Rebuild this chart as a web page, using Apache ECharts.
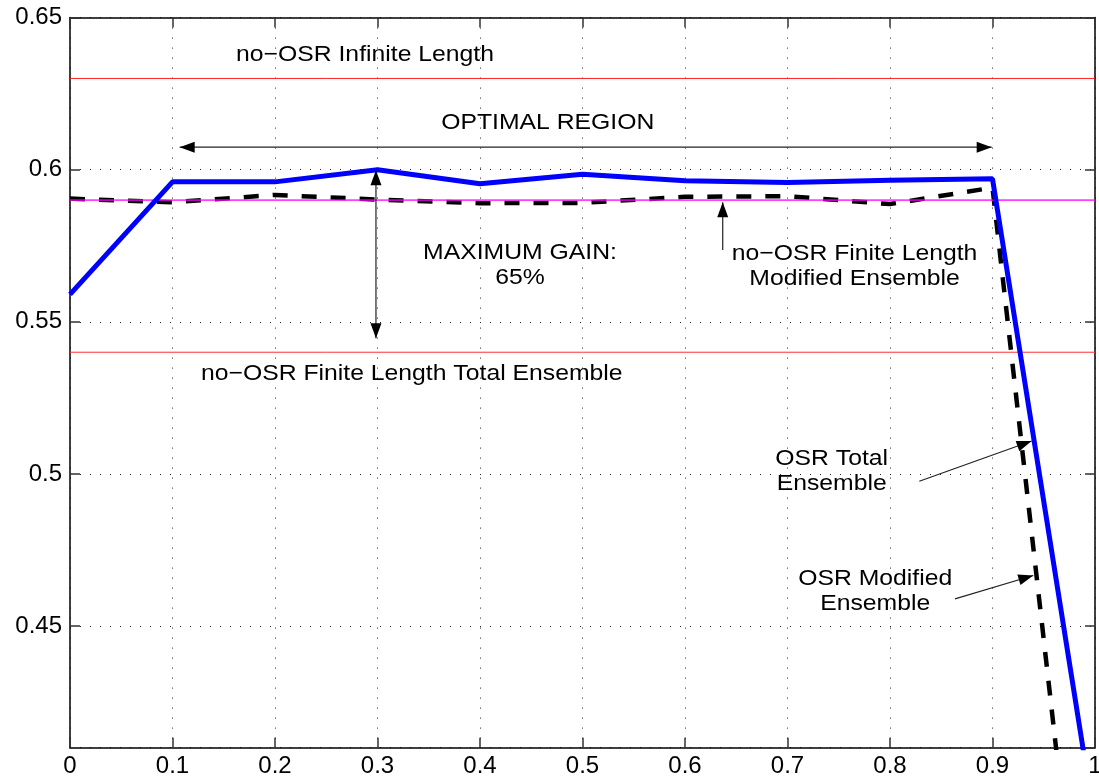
<!DOCTYPE html>
<html>
<head>
<meta charset="utf-8">
<script src="https://cdn.jsdelivr.net/npm/echarts@6/dist/echarts.min.js"></script>
<style>
  html, body { margin: 0; padding: 0; background: #fff; }
  #chart { width: 1099px; height: 781px; }
</style>
</head>
<body>
<div id="chart"></div>
<script>
// ---- data ----
const xValues = [0, 0.1, 0.2, 0.3, 0.4, 0.5, 0.6, 0.7, 0.8, 0.9, 1.0];
const osrTotal = [0.559, 0.596, 0.596, 0.600, 0.5954, 0.5985, 0.5964, 0.5958, 0.5965, 0.597, 0.385];
const osrModified = [0.5905, 0.5893, 0.5917, 0.5902, 0.589, 0.5891, 0.5911, 0.5913, 0.5887, 0.5941, 0.297];
const refX = [0, 1];
const noOsrInfinite = 0.63;
const noOsrFiniteModified = 0.59;
const noOsrFiniteTotal = 0.54;

const xMin = 0, xMax = 1, xStep = 0.1;
const yMin = 0.41, yMax = 0.65;

const annotationTexts = [
  'no\u2212OSR Infinite Length',
  'OPTIMAL REGION',
  'MAXIMUM GAIN:\n65%',
  'no\u2212OSR Finite Length\nModified Ensemble',
  'no\u2212OSR Finite Length Total Ensemble',
  'OSR Total\nEnsemble',
  'OSR Modified\nEnsemble'
];
const annotationX = [0.2878, 0.4661, 0.439, 0.7654, 0.3334, 0.7431, 0.7856];
const annotationY = [0.6378, 0.6155, 0.5686, 0.5684, 0.5328, 0.5009, 0.4615];

// arrows: from (x1,y1) to (x2,y2); head at end 2, and at end 1 too if double
const arrowX1 = [0.107, 0.2985, 0.6368, 0.8286, 0.8634];
const arrowY1 = [0.6074, 0.5446, 0.5736, 0.4976, 0.4589];
const arrowX2 = [0.8992, 0.2985, 0.6368, 0.9382, 0.9398];
const arrowY2 = [0.6074, 0.5998, 0.5893, 0.5108, 0.4666];
const arrowDouble = [1, 1, 0, 0, 0];

// ---- build ----
const FONT = "'Liberation Sans', Arial, Helvetica, sans-serif";
const pairs = (xs, ys) => xs.map((x, i) => [x, ys[i]]);
const hline = (v) => refX.map(x => [x, v]);

const chart = echarts.init(document.getElementById('chart'), null, { renderer: 'canvas' });

const gridDots = { show: true, lineStyle: { color: '#222', width: 1, type: [1, 9] } };
const tickStyle = { show: true, inside: true, length: 10, lineStyle: { color: '#333', width: 1.5 } };
const lineAxis = { show: true, onZero: false, lineStyle: { color: '#000', width: 1.5 } };

function arrowHead(tip, tail, L, W) {
  const dx = tip[0] - tail[0], dy = tip[1] - tail[1];
  const len = Math.sqrt(dx * dx + dy * dy) || 1;
  const ux = dx / len, uy = dy / len;
  const bx = tip[0] - ux * L, by = tip[1] - uy * L;
  const nx = -uy, ny = ux;
  return {
    type: 'polygon',
    shape: { points: [[tip[0], tip[1]], [bx + nx * W / 2, by + ny * W / 2], [bx - nx * W / 2, by - ny * W / 2]] },
    style: { fill: '#000' }
  };
}

const option = {
  animation: false,
  backgroundColor: '#fff',
  grid: { left: 70, right: 4, top: 17.6, bottom: 33.3, containLabel: false, outerBoundsMode: 'none' },
  xAxis: [
    {
      type: 'value', min: xMin, max: xMax, interval: xStep, position: 'bottom',
      axisLine: lineAxis, axisTick: tickStyle,
      axisLabel: { color: '#000', fontSize: 24, fontFamily: FONT, margin: 7 },
      splitLine: gridDots
    },
    {
      type: 'value', min: xMin, max: xMax, interval: xStep, position: 'top',
      axisLine: lineAxis, axisTick: tickStyle,
      axisLabel: { show: false }, splitLine: { show: false }
    }
  ],
  yAxis: [
    {
      type: 'value', min: yMin, max: yMax, splitNumber: 5, position: 'left',
      axisLine: lineAxis, axisTick: tickStyle,
      axisLabel: { color: '#000', fontSize: 24, fontFamily: FONT, margin: 8, showMinLabel: false },
      splitLine: gridDots
    },
    {
      type: 'value', min: yMin, max: yMax, splitNumber: 5, position: 'right',
      axisLine: lineAxis, axisTick: tickStyle,
      axisLabel: { show: false }, splitLine: { show: false }
    }
  ],
  series: [
    {
      name: 'no-OSR Infinite Length', type: 'line', data: hline(noOsrInfinite),
      symbol: 'none', lineStyle: { color: '#ff2020', width: 1 }, z: 2, silent: true
    },
    {
      name: 'no-OSR Finite Length Total Ensemble', type: 'line', data: hline(noOsrFiniteTotal),
      symbol: 'none', lineStyle: { color: '#ff3030', width: 1 }, z: 2, silent: true
    },
    {
      name: 'OSR Modified Ensemble', type: 'line', data: pairs(xValues, osrModified),
      symbol: 'none', lineStyle: { color: '#000', width: 4.5, type: [15, 14], cap: 'butt' }, z: 3, silent: true
    },
    {
      name: 'no-OSR Finite Length Modified Ensemble', type: 'line', data: hline(noOsrFiniteModified),
      symbol: 'none', lineStyle: { color: '#ff00ff', width: 1.8, opacity: 0.75 }, z: 4, silent: true
    },
    {
      name: 'OSR Total Ensemble', type: 'line', data: pairs(xValues, osrTotal),
      symbol: 'none', lineStyle: { color: '#0000ff', width: 5 }, z: 5, silent: true
    },
    {
      name: 'arrows', type: 'custom', silent: true, clip: false, z: 6,
      encode: { x: 0, y: 1 },
      data: arrowX1.map((x, i) => [x, arrowY1[i], arrowX2[i], arrowY2[i], arrowDouble[i]]),
      renderItem: function (params, api) {
        const p1 = api.coord([api.value(0), api.value(1)]);
        const p2 = api.coord([api.value(2), api.value(3)]);
        const dbl = api.value(4) === 1;
        const children = [
          { type: 'line', shape: { x1: p1[0], y1: p1[1], x2: p2[0], y2: p2[1] }, style: { stroke: '#222', lineWidth: 1.2 } },
          arrowHead(p2, p1, 15, 11)
        ];
        if (dbl) children.push(arrowHead(p1, p2, 15, 11));
        return { type: 'group', children: children };
      }
    },
    {
      name: 'labels', type: 'custom', silent: true, clip: false, z: 7,
      encode: { x: 0, y: 1 },
      data: annotationX.map((x, i) => [x, annotationY[i]]),
      renderItem: function (params, api) {
        const p = api.coord([api.value(0), api.value(1)]);
        return {
          type: 'text', x: p[0], y: p[1], scaleX: 1.1,
          style: {
            text: annotationTexts[params.dataIndex],
            fill: '#000', fontSize: 22.5, fontFamily: FONT,
            align: 'center', verticalAlign: 'middle', lineHeight: 25
          }
        };
      }
    }
  ]
};
chart.setOption(option);
</script>
</body>
</html>
